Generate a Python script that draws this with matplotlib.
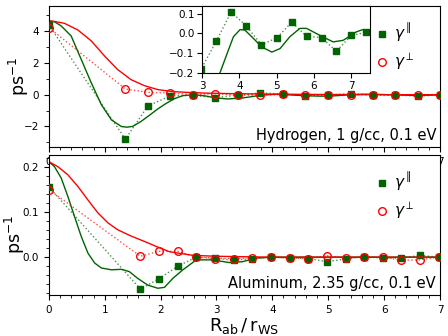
import matplotlib
matplotlib.use("Agg")
import matplotlib.pyplot as plt
from matplotlib.ticker import MultipleLocator

plt.rcParams['font.family'] = ['DejaVu Sans']
plt.rcParams['mathtext.fontset'] = 'dejavusans'

GREEN = '#006400'
RED = '#ff0000'

# ---------------- Hydrogen data ----------------
h_x = [0, 1.37, 1.77, 2.17, 2.58, 2.98, 3.38, 3.78, 4.19, 4.59, 5.0, 5.4, 5.8, 6.2, 6.6, 7.0, 7.4]
h_par = [4.40, -2.81, -0.72, -0.08, -0.04, -0.18, -0.04, 0.11, 0.037, -0.057, -0.023, 0.057,
         -0.014, -0.021, -0.091, -0.009, 0.005]
h_perp = [4.23, 0.36, 0.15, 0.10, 0.0, 0.06, -0.02, -0.04, 0.02, -0.01, 0.0, 0.01,
          0.0, -0.01, 0.0, 0.0, 0.0]

h_perp_cx = [0, 0.1, 0.28, 0.52, 0.76, 1.0, 1.23, 1.47, 1.71, 1.95, 2.2, 2.5, 2.8, 3.2, 3.6,
             4.0, 4.5, 5.0, 6.0, 7.0]
h_perp_cy = [4.65, 4.62, 4.5, 4.08, 3.39, 2.43, 1.59, 0.95, 0.57, 0.32, 0.2, 0.14, 0.1, 0.07,
             0.05, 0.03, 0.02, 0.01, 0.0, 0.0]

h_par_cx = [0, 0.1, 0.22, 0.4, 0.58, 0.76, 0.94, 1.12, 1.3, 1.4, 1.5, 1.65, 1.8, 1.95, 2.1,
            2.25, 2.4, 2.6, 2.8, 3.0, 3.2, 3.47, 3.67, 3.84, 4.02, 4.15, 4.38, 4.6, 4.87,
            5.09, 5.35, 5.62, 5.8, 6.15, 6.51, 6.78, 7.13, 7.31, 7.5]
h_par_cy = [4.65, 4.6, 4.34, 3.7, 2.22, 0.74, -0.63, -1.59, -2.01, -2.05, -2.0, -1.69, -1.3,
            -0.9, -0.55, -0.25, -0.06, 0.0, -0.08, -0.21, -0.27, -0.206, -0.103, -0.017,
            0.02, 0.017, -0.026, -0.069, -0.095, -0.077, -0.017, 0.026, 0.026, -0.009,
            -0.043, -0.035, 0.008, 0.02, 0.015]

# ---------------- Aluminum data ----------------
al_x = [0, 1.64, 1.97, 2.31, 2.64, 2.97, 3.31, 3.64, 3.98, 4.31, 4.64, 4.98, 5.31, 5.64,
        5.98, 6.31, 6.64, 6.98]
al_par = [0.156, -0.071, -0.048, -0.02, 0.0, -0.002, -0.007, -0.003, 0.0, -0.002, -0.003,
          -0.010, -0.004, 0.001, -0.002, -0.002, 0.004, 0.0]
al_perp = [0.150, 0.002, 0.013, 0.013, 0.0, -0.003, -0.003, -0.002, 0.0, -0.002, -0.004,
           0.003, -0.002, 0.0, 0.0, -0.007, -0.006, 0.0]

al_perp_cx = [0, 0.16, 0.34, 0.52, 0.7, 0.88, 1.06, 1.23, 1.47, 1.71, 1.9, 2.16, 2.58, 3.0,
              3.5, 4.0, 5.0, 6.0, 7.0]
al_perp_cy = [0.212, 0.201, 0.183, 0.157, 0.127, 0.098, 0.076, 0.061, 0.047, 0.035, 0.025,
              0.012, 0.004, 0.002, 0.001, 0.0, 0.0, 0.0, 0.0]

al_par_cx = [0, 0.1, 0.22, 0.34, 0.46, 0.58, 0.7, 0.82, 0.94, 1.12, 1.3, 1.44, 1.59, 1.77,
             1.95, 2.07, 2.22, 2.4, 2.64, 2.93, 3.23, 3.47, 3.71, 4.0, 5.0, 6.0, 7.0]
al_par_cy = [0.212, 0.201, 0.176, 0.135, 0.09, 0.046, 0.009, -0.013, -0.024, -0.028, -0.027,
             -0.032, -0.047, -0.062, -0.069, -0.067, -0.047, -0.028, -0.006, -0.006, -0.012,
             -0.01, -0.002, 0.0, 0.0, 0.0, 0.0]

labels = [r'$\gamma^{\parallel}$', r'$\gamma^{\perp}$']
texts = ['Hydrogen, 1 g/cc, 0.1 eV', 'Aluminum, 2.35 g/cc, 0.1 eV']

fig = plt.figure(figsize=(4.48, 3.36), dpi=100)
ax1 = fig.add_axes([0.109, 0.5625, 0.873, 0.42])
ax2 = fig.add_axes([0.109, 0.122, 0.873, 0.417])


def draw(ax, x, par, perp, pcx, pcy, qcx, qcy):
    ax.plot(qcx, qcy, '-', color=GREEN, lw=1.0, zorder=2)
    ax.plot(pcx, pcy, '-', color=RED, lw=1.0, zorder=2)
    ax.plot(x, par, ':', color=GREEN, lw=1.0, alpha=0.7, zorder=3)
    ax.plot(x, perp, ':', color=RED, lw=1.0, alpha=0.7, zorder=3)
    ax.plot(x, par, 's', color=GREEN, ms=5, ls='none', label=labels[0], zorder=4)
    ax.plot(x, perp, 'o', mfc='none', mec=RED, mew=1.0, ms=5.5, ls='none',
            label=labels[1], zorder=5)


draw(ax1, h_x, h_par, h_perp, h_perp_cx, h_perp_cy, h_par_cx, h_par_cy)
draw(ax2, al_x, al_par, al_perp, al_perp_cx, al_perp_cy, al_par_cx, al_par_cy)

for ax in (ax1, ax2):
    ax.set_xlim(0, 7)
    ax.xaxis.set_major_locator(MultipleLocator(1))
    ax.xaxis.set_minor_locator(MultipleLocator(0.2))
    ax.tick_params(labelsize=7.5)
    ax.set_ylabel(r'$\mathrm{ps}^{-1}$', fontsize=12.5)
    ax.legend(loc='upper right', frameon=False, fontsize=11, handletextpad=0.3,
              handlelength=1.0, labelspacing=0.45, bbox_to_anchor=(0.97, 0.985))

ax1.yaxis.set_label_coords(-0.045, 0.5)
ax2.yaxis.set_label_coords(-0.055, 0.43)

ax1.set_ylim(-3.3, 5.6)
ax1.yaxis.set_major_locator(MultipleLocator(2))
ax1.yaxis.set_minor_locator(MultipleLocator(1))
ax2.set_ylim(-0.084, 0.227)
ax2.yaxis.set_major_locator(MultipleLocator(0.1))
ax2.yaxis.set_minor_locator(MultipleLocator(0.02))
ax2.set_xlabel(r'$\mathrm{R_{ab}\,/\,r_{WS}}$', fontsize=13, labelpad=1)

ax1.text(0.99, 0.03, texts[0], transform=ax1.transAxes, ha='right', va='bottom', fontsize=10.5)
ax2.text(0.99, 0.03, texts[1], transform=ax2.transAxes, ha='right', va='bottom', fontsize=10.5)

# inset
axi = fig.add_axes([0.451, 0.782, 0.375, 0.200])
axi.plot(h_par_cx, h_par_cy, '-', color=GREEN, lw=1.0)
axi.plot(h_x, h_par, ':', color=GREEN, lw=1.0, alpha=0.7)
axi.plot(h_x, h_par, 's', color=GREEN, ms=5, ls='none')
axi.set_xlim(3, 7.5)
axi.set_ylim(-0.203, 0.14)
axi.xaxis.set_major_locator(MultipleLocator(1))
axi.yaxis.set_major_locator(MultipleLocator(0.1))
axi.tick_params(labelsize=7.5, pad=2)

fig.savefig('out.png', dpi=100)
